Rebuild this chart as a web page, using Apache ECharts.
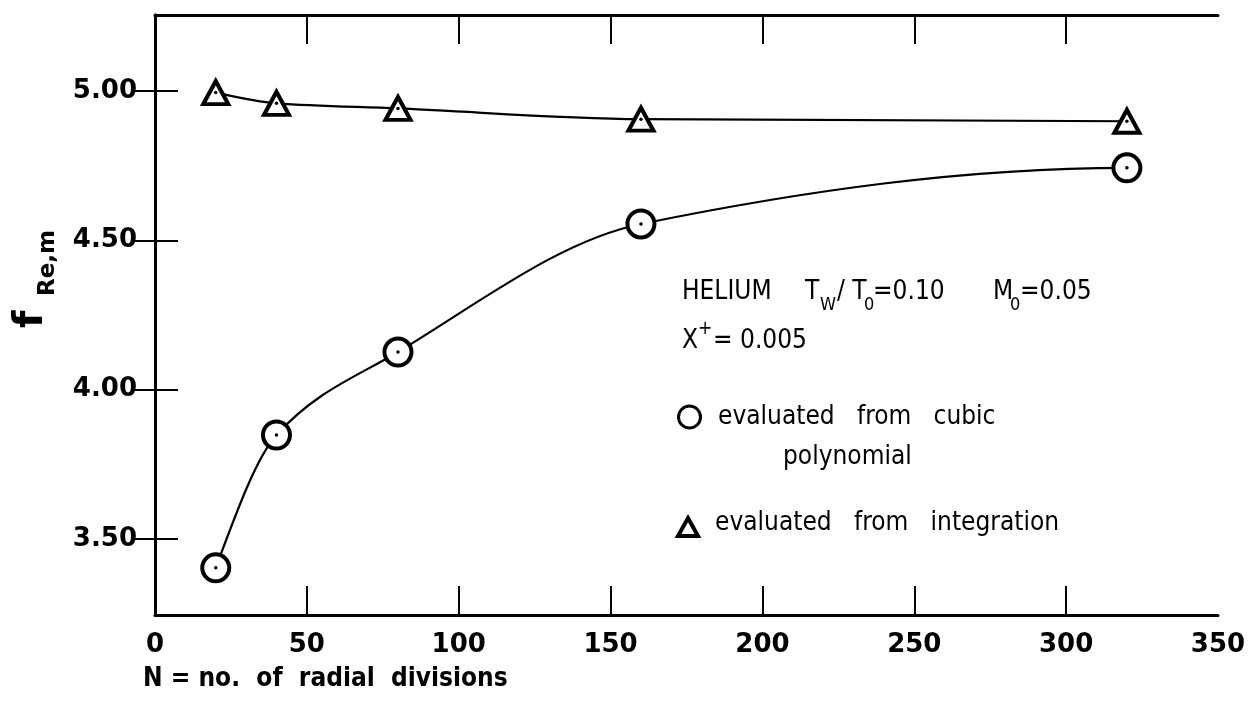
<!DOCTYPE html>
<html>
<head>
<meta charset="utf-8">
<title>fRe,m vs N</title>
<script src="https://cdn.jsdelivr.net/npm/echarts@6/dist/echarts.min.js"></script>
<style>
  html, body { margin: 0; padding: 0; background: #fff; }
  #chart { width: 1255px; height: 702px; }
</style>
</head>
<body>
<div id="chart"></div>
<script>
// radial divisions N
var nDiv = [20, 40, 80, 160, 320];
// evaluated from cubic polynomial (circles)
var cubicVals = [3.403, 3.848, 4.126, 4.555, 4.743];
// evaluated from integration (triangles)
var integVals = [4.995, 4.959, 4.942, 4.906, 4.899];
// ticks / labels
var xLabels = [0, 50, 100, 150, 200, 250, 300, 350];
var xTicks = [50, 100, 150, 200, 250, 300];
var yTicks = [3.5, 4.0, 4.5, 5.0];

function pairs(xs, ys) {
    return xs.map(function (x, i) { return [x, ys[i]]; });
}

/**
 * smooth curve through the points (monotone cubic, pixel space)
 */
function curvePath(pts) {
    var n = pts.length, h = [], d = [], m = [], i;
    for (i = 0; i < n - 1; i++) {
        h.push(pts[i + 1][0] - pts[i][0]);
        d.push((pts[i + 1][1] - pts[i][1]) / h[i]);
    }
    for (i = 1; i < n - 1; i++) {
        if (d[i - 1] * d[i] <= 0) { m[i] = 0; continue; }
        var w1 = 2 * h[i] + h[i - 1], w2 = h[i] + 2 * h[i - 1];
        m[i] = (w1 + w2) / (w1 / d[i - 1] + w2 / d[i]);
    }
    function endSlope(h0, h1, d0, d1) {
        var s = ((2 * h0 + h1) * d0 - h0 * d1) / (h0 + h1);
        if (s * d0 <= 0) return 0;
        if (d0 * d1 <= 0 && Math.abs(s) > 3 * Math.abs(d0)) return 3 * d0;
        return s;
    }
    m[0] = endSlope(h[0], h[1], d[0], d[1]);
    m[n - 1] = endSlope(h[n - 2], h[n - 3], d[n - 2], d[n - 3]);
    var s = 'M' + pts[0][0] + ' ' + pts[0][1];
    for (i = 0; i < n - 1; i++) {
        var t = h[i] / 3;
        s += ' C' + (pts[i][0] + t) + ' ' + (pts[i][1] + m[i] * t) + ' ' +
            (pts[i + 1][0] - t) + ' ' + (pts[i + 1][1] - m[i + 1] * t) + ' ' +
            pts[i + 1][0] + ' ' + pts[i + 1][1];
    }
    return s;
}

function curveSeries(vals) {
    return {
        type: 'custom',
        data: [[nDiv[0], vals[0]]],
        z: 1,
        silent: true,
        renderItem: function (params, api) {
            var pts = nDiv.map(function (x, i) { return api.coord([x, vals[i]]); });
            return {
                type: 'path',
                shape: {pathData: curvePath(pts)},
                style: {fill: 'none', stroke: '#000', lineWidth: 2.2}
            };
        }
    };
}

var FONT = 'DejaVu Sans';
var FONTC = 'DejaVu Sans Condensed';
var lblStyle = {fontFamily: FONT, fontWeight: 'bold', fontSize: 26, color: '#000'};

var xBase = {
    type: 'value', min: 0, max: 350,
    axisLine: {show: true, lineStyle: {color: '#000', width: 3}},
    axisTick: {show: true, inside: true, length: 29, customValues: xTicks, lineStyle: {color: '#000', width: 2}},
    splitLine: {show: false}
};
var yBase = {
    type: 'value', min: 3.245, max: 5.255,
    axisLine: {show: true, lineStyle: {color: '#000', width: 3}},
    axisTick: {show: true, inside: true, length: 23, customValues: yTicks, lineStyle: {color: '#000', width: 2}},
    splitLine: {show: false}
};

function txt(x, y, text, size) {
    return {type: 'text', x: x, y: y, style: {text: text, fontFamily: FONTC, fontSize: size || 26, fill: '#000', verticalAlign: 'middle'}};
}

var option = {
    backgroundColor: '#fff',
    animation: false,
    grid: {left: 155, right: 37, top: 15, bottom: 87},
    xAxis: [
        Object.assign({}, xBase, {
            position: 'bottom',
            axisLabel: Object.assign({customValues: xLabels, margin: 17}, lblStyle)
        }),
        Object.assign({}, xBase, {position: 'top', axisLabel: {show: false}})
    ],
    yAxis: [
        Object.assign({}, yBase, {
            position: 'left',
            axisLabel: Object.assign({customValues: yTicks, margin: 18, formatter: function (v) { return v.toFixed(2); }}, lblStyle)
        }),
        Object.assign({}, yBase, {position: 'right', axisLabel: {show: false}})
    ],
    series: [
        curveSeries(cubicVals),
        curveSeries(integVals),
        {
            name: 'evaluated from cubic polynomial',
            type: 'scatter',
            data: pairs(nDiv, cubicVals),
            symbol: 'circle',
            symbolSize: 27,
            itemStyle: {color: '#fff', borderColor: '#000', borderWidth: 4, opacity: 1},
            z: 3
        },
        {
            name: 'evaluated from integration',
            type: 'scatter',
            data: pairs(nDiv, integVals),
            symbol: 'triangle',
            symbolSize: [25, 23],
            itemStyle: {color: '#fff', borderColor: '#000', borderWidth: 4, opacity: 1},
            z: 3
        },
        {
            // centre dots of the markers
            type: 'scatter',
            data: pairs(nDiv, cubicVals).concat(pairs(nDiv, integVals)),
            symbol: 'circle',
            symbolSize: 3.5,
            itemStyle: {color: '#000', opacity: 1},
            z: 5
        }
    ],
    graphic: [
        // y axis name  f_Re,m
        {
            type: 'group', x: 32, y: 328, rotation: Math.PI / 2,
            children: [
                {type: 'text', x: 0, y: 0, style: {text: 'f', fontFamily: FONT, fontWeight: 'bold', fontSize: 40, fill: '#000', verticalAlign: 'middle', align: 'left'}},
                {type: 'text', x: 32, y: 16, style: {text: 'Re,m', fontFamily: FONT, fontWeight: 'bold', fontSize: 23, fill: '#000', verticalAlign: 'middle', align: 'left'}}
            ]
        },
        // x axis name
        {type: 'text', left: 143, top: 666, style: {text: 'N = no.  of  radial  divisions', fontFamily: FONTC, fontWeight: 'bold', fontSize: 26, fill: '#000'}},

        // annotation
        txt(682, 292, 'HELIUM'),
        txt(805, 292, 'T'),
        txt(820, 305, 'W', 18),
        txt(837, 292, '/ T'),
        txt(864, 305, '0', 18),
        txt(873, 292, '=0.10'),
        txt(993, 292, 'M'),
        txt(1010, 305, '0', 18),
        txt(1020, 292, '=0.05'),
        txt(682, 341, 'X'),
        txt(698, 329, '+', 19),
        txt(713, 341, '= 0.005'),

        {type: 'circle', shape: {cx: 689.5, cy: 417, r: 11}, style: {fill: 'none', stroke: '#000', lineWidth: 3}},
        txt(718, 417, 'evaluated   from   cubic'),
        txt(783, 457, 'polynomial'),
        {type: 'polygon', shape: {points: [[688, 518], [698, 536], [678, 536]]}, style: {fill: 'none', stroke: '#000', lineWidth: 4}},
        txt(715, 523, 'evaluated   from   integration')
    ]
};

var myChart = echarts.init(document.getElementById('chart'));
myChart.setOption(option);
</script>
</body>
</html>
